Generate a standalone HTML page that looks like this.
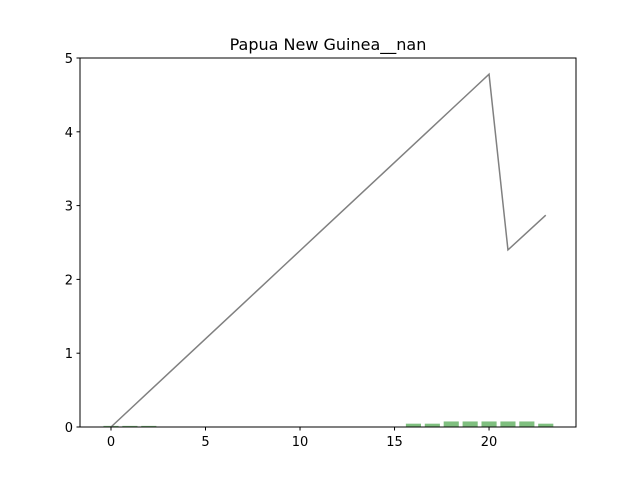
<!DOCTYPE html>
<html><head><meta charset="utf-8"><style>body{margin:0;background:#fff}svg text{font-family:"DejaVu Sans","Liberation Sans",sans-serif}</style></head>
<body>
<svg id="chart" width="640" height="480" xmlns="http://www.w3.org/2000/svg">
<rect width="640" height="480" fill="#fff"/>
<text x="328" y="50" text-anchor="middle" font-size="16">Papua New Guinea__nan</text>
<g id="bars"></g><g id="line"></g><g id="ticks"></g>
<rect x="80" y="58" width="496" height="369" fill="none" stroke="#000" stroke-width="1"/>
</svg>
<script>
const lineX=[0,1,2,3,4,5,6,7,8,9,10,11,12,13,14,15,16,17,18,19,20,21,22,23];
const lineY=[0,0.239,0.478,0.717,0.956,1.195,1.434,1.673,1.912,2.151,2.39,2.629,2.868,3.107,3.346,3.585,3.824,4.063,4.302,4.541,4.78,2.4,2.635,2.87];
const barX=[0,1,2,16,17,18,19,20,21,22,23];
const barY=[0.015,0.015,0.015,0.045,0.045,0.075,0.075,0.075,0.075,0.075,0.045];
const xTicks=[0,5,10,15,20];
const yTicks=[0,1,2,3,4,5];
const X0=80,X1=576,Y0=427,Y1=58,xmin=-1.64,xmax=24.6,ymin=0,ymax=5;
const sx=v=>X0+(v-xmin)/(xmax-xmin)*(X1-X0);
const sy=v=>Y0-(v-ymin)/(ymax-ymin)*(Y0-Y1);
const NS="http://www.w3.org/2000/svg";
const mk=(t,a,p)=>{const e=document.createElementNS(NS,t);for(const k in a)e.setAttribute(k,a[k]);p.appendChild(e);return e;};
const bg=document.getElementById('bars');
barX.forEach((x,i)=>{const r=mk('rect',{x:sx(x-0.4),y:sy(barY[i]),width:sx(x+0.4)-sx(x-0.4),height:sy(0)-sy(barY[i]),fill:'green','fill-opacity':0.5},bg);

});
const lg=document.getElementById('line');
const pl=mk('polyline',{points:lineX.map((x,i)=>sx(x)+','+sy(lineY[i])).join(' '),fill:'none',stroke:'#808080','stroke-width':1.5},lg);


const tg=document.getElementById('ticks');
xTicks.forEach(v=>{const x=sx(v);mk('line',{x1:x,x2:x,y1:Y0,y2:Y0+3.5,stroke:'#000'},tg);
const t=mk('text',{x:x,y:Y0+19,'text-anchor':'middle','font-size':13},tg);t.textContent=v;

});
yTicks.forEach(v=>{const y=sy(v);mk('line',{x1:X0-3.5,x2:X0,y1:y,y2:y,stroke:'#000'},tg);
const t=mk('text',{x:X0-7,y:y+5,'text-anchor':'end','font-size':13},tg);t.textContent=v;

});
</script>
</body></html>
